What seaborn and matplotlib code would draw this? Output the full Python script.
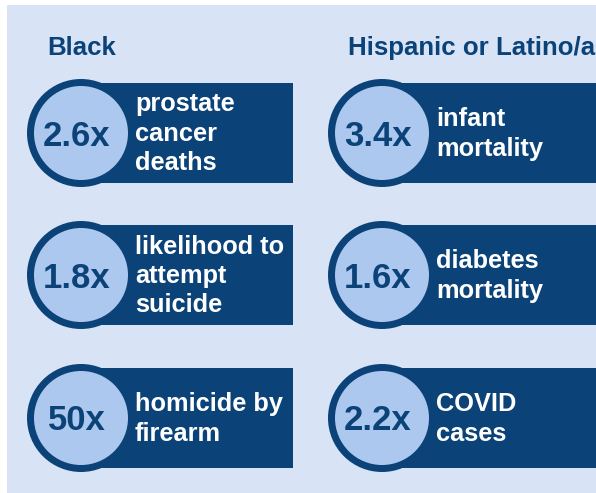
import matplotlib
matplotlib.use("Agg")
import matplotlib.pyplot as plt
from matplotlib.patches import Rectangle, Circle
import seaborn as sns

# ---- data ----
groups = ["Black", "Hispanic or Latino/a"]
black_values = ["2.6x", "1.8x", "50x"]
black_labels = ["prostate\ncancer\ndeaths", "likelihood to\nattempt\nsuicide", "homicide by\nfirearm"]
hisp_values = ["3.4x", "1.6x", "2.2x"]
hisp_labels = ["infant\nmortality", "diabetes\nmortality", "COVID\ncases"]

# ---- style ----
sns.set_theme(style="white")
plt.rcParams["font.family"] = ["Liberation Sans", "DejaVu Sans"]

NAVY = "#0b4379"
LIGHT = "#adc8ef"
BG = "#d8e4f6"

W, H = 596, 493
fig = plt.figure(figsize=(W / 100, H / 100), dpi=100)
ax = fig.add_axes([0, 0, 1, 1])
ax.set_xlim(0, W)
ax.set_ylim(H, 0)
ax.axis("off")

ax.add_patch(Rectangle((7, 5), W, H, facecolor=BG, edgecolor="none", zorder=0,
                       clip_on=False))

col_cx = [81, 382]          # circle centres per column
col_rect = [(100, 293), (397, W + 10)]
col_title_x = [47, 348]
row_cy = [133, 275, 418]
R_OUT, R_IN = 54, 47
RECT_H = 100
LINE = 29.5

columns = [(black_values, black_labels), (hisp_values, hisp_labels)]

for ci, (grp, (vals, labs)) in enumerate(zip(groups, columns)):
    ax.text(col_title_x[ci], 55, grp, color=NAVY, fontsize=18.6, fontweight="bold",
            ha="left", va="baseline")
    x0, x1 = col_rect[ci]
    cx = col_cx[ci]
    for ri, (v, lab) in enumerate(zip(vals, labs)):
        cy = row_cy[ri]
        ax.add_patch(Rectangle((x0, cy - RECT_H / 2), x1 - x0, RECT_H,
                               facecolor=NAVY, edgecolor="none", zorder=1))
        ax.add_patch(Circle((cx, cy), R_OUT, facecolor=NAVY, edgecolor="none", zorder=2))
        ax.add_patch(Circle((cx, cy), R_IN, facecolor=LIGHT, edgecolor="none", zorder=3))
        ax.text(cx - 4, cy + 12.5, v, color=NAVY, fontsize=25, fontweight="bold",
                ha="center", va="baseline", zorder=4)
        lines = lab.split("\n")
        n = len(lines)
        for li, t in enumerate(lines):
            by = cy + 8 + (li - (n - 1) / 2) * LINE
            ax.text(cx + 54, by, t, color="white", fontsize=18.3, fontweight="bold",
                    ha="left", va="baseline", zorder=4)

fig.savefig("out.png", dpi=100)
